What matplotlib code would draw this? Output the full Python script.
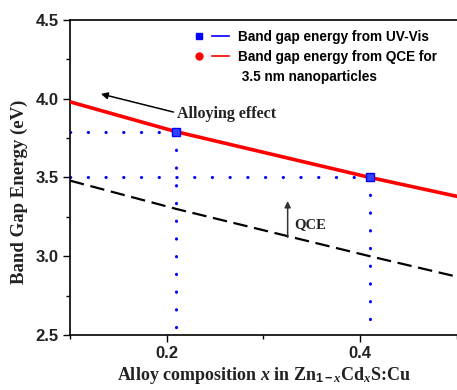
import numpy as np
import matplotlib.pyplot as plt
from matplotlib.lines import Line2D
from matplotlib.legend_handler import HandlerTuple

# data ------------------------------------------------------------------

# measured band gaps (UV-Vis)
x_uvvis = [0.21, 0.41]
eg_uvvis = [3.79, 3.50]

# band gap from QCE for 3.5 nm particles
x_qce = [0.10, 0.21, 0.41, 0.50]
eg_qce = [3.98, 3.79, 3.50, 3.38]

# bulk band gap vs composition
x_bulk = [0.10, 0.21, 0.41, 0.50]
eg_bulk = [3.48, 3.30, 3.00, 2.87]

XMIN, XMAX = 0.1, 0.5
YMIN, YMAX = 2.5, 4.5

plt.rcParams['mathtext.fontset'] = 'custom'
plt.rcParams['mathtext.rm'] = 'Liberation Serif:bold'
plt.rcParams['mathtext.bf'] = 'Liberation Serif:bold'
plt.rcParams['mathtext.it'] = 'Liberation Serif:italic:bold'
plt.rcParams['mathtext.sf'] = 'Liberation Sans:bold'

fig = plt.figure(figsize=(4.57, 3.9), dpi=100)
ax = fig.add_axes([0.153, 0.141, 0.847, 0.808])

# curves
ax.plot(x_qce, eg_qce, color='red', lw=2.6, zorder=3)
ax.plot(x_bulk, eg_bulk, color='black', lw=1.6, ls=(0, (6.5, 3)), zorder=2)

# guide lines from the measured points down to the axes
dots = dict(color='blue', lw=2.2, ls=(0, (0.1, 5.7)), dash_capstyle='round', zorder=2)
for xv, yv in zip(x_uvvis, eg_uvvis):
    ax.plot([XMIN, xv], [yv, yv], **dots)
    ax.plot([xv, xv], [yv, YMIN], **dots)

ax.plot(x_uvvis, eg_uvvis, ls='none', marker='s', ms=5.5, mfc='#3344ff',
        mec='blue', zorder=4)

# annotations
ax.annotate('', xy=(0.132, 4.03), xytext=(0.207, 3.915),
            arrowprops=dict(arrowstyle='-|>', color='black', lw=1.1,
                            mutation_scale=10, shrinkA=0, shrinkB=0))
ax.text(0.211, 3.905, 'Alloying effect', family='Liberation Serif',
        fontweight='bold', fontsize=11.5, va='center', ha='left', color='#222222')

ax.annotate('', xy=(0.325, 3.35), xytext=(0.325, 3.12),
            arrowprops=dict(arrowstyle='-|>', color='#333333', lw=1.1,
                            mutation_scale=9, shrinkA=0, shrinkB=0))
ax.text(0.332, 3.2, 'QCE', family='Liberation Serif', fontweight='bold',
        fontsize=10.5, va='center', ha='left', color='#222222')

# legend: marker followed by a short line; the second label wraps onto
# a third row with a blank handle so the symbols sit on the first line
h_uv = (Line2D([], [], ls='none', marker='s', ms=4, color='blue'),
        Line2D([], [], color='blue', lw=1.2))
h_qce = (Line2D([], [], ls='none', marker='o', ms=5, color='red'),
         Line2D([], [], color='red', lw=1.2))
h_blank = Line2D([], [], ls='none')
leg = ax.legend([h_uv, h_qce, h_blank],
                ['Band gap energy from UV-Vis',
                 'Band gap energy from QCE for',
                 ' 3.5 nm nanoparticles'],
                handler_map={tuple: HandlerTuple(ndivide=None, pad=0.3)},
                loc='upper left', bbox_to_anchor=(190 / 457, 1 - 30 / 390),
                bbox_transform=fig.transFigure, frameon=False,
                prop={'family': 'Liberation Sans', 'weight': 'bold', 'size': 9.8},
                handlelength=2.9, handletextpad=0.6, labelspacing=0.45,
                borderpad=0, borderaxespad=0)

# axes
ax.set_xlim(XMIN, XMAX)
ax.set_ylim(YMIN, YMAX)
ax.set_xticks([0.2, 0.4])
ax.set_xticks([0.1, 0.3, 0.5], minor=True)
ax.set_yticks([2.5, 3.0, 3.5, 4.0, 4.5])
ax.set_yticks([2.75, 3.25, 3.75, 4.25], minor=True)
ax.tick_params(direction='out', length=5, width=1, labelsize=12, pad=3)
ax.tick_params(which='minor', direction='out', length=3, width=1)
for lab in ax.get_xticklabels() + ax.get_yticklabels():
    lab.set_fontfamily('Liberation Sans')
    lab.set_fontweight('bold')
    lab.set_color('#222222')

ax.spines['right'].set_visible(False)
for s in ('left', 'bottom', 'top'):
    ax.spines[s].set_linewidth(1.2)

ax.set_ylabel('Band Gap Energy (eV)', family='Liberation Serif',
              fontweight='bold', fontsize=13.5, color='#222222')
ax.yaxis.set_label_coords(-0.109, 0.454)
ax.set_xlabel(r'Alloy composition $\mathit{x}$ in Zn$_{\mathsf{1-}\mathit{x}}$Cd$_{\mathit{x}}$S:Cu',
              family='Liberation Serif', fontweight='bold', fontsize=13,
              labelpad=3, color='#222222')

fig.savefig('out.png', dpi=100)
